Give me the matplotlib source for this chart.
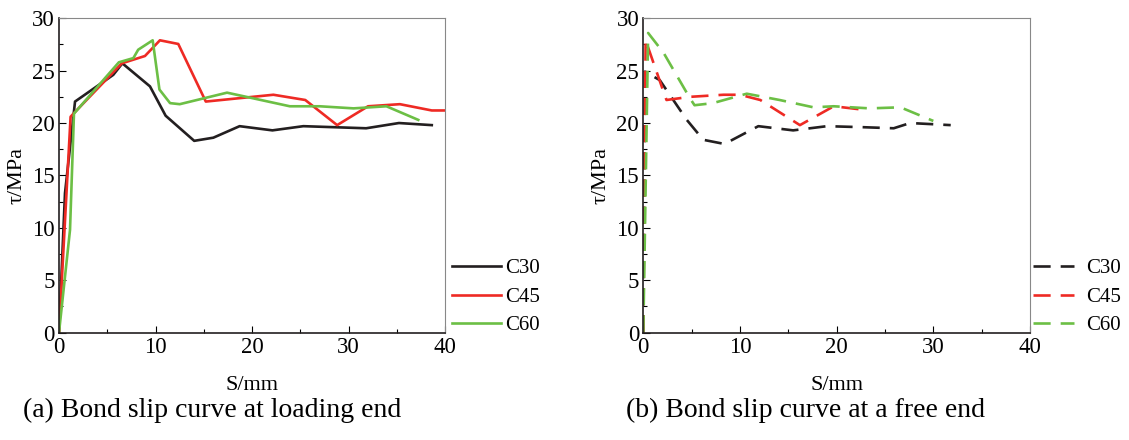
import matplotlib
matplotlib.use("Agg")
import matplotlib.pyplot as plt
from matplotlib.ticker import MultipleLocator

plt.rcParams['font.family'] = ['Liberation Serif', 'DejaVu Serif']

# (a) loading end
a_c30_x = [0, 0.62, 1.66, 5.62, 6.56, 9.42, 11.04, 14.0, 15.98, 18.7, 22.1, 25.3, 31.8, 35.2, 38.6]
a_c30_y = [0, 13.3, 22.05, 24.6, 25.7, 23.5, 20.7, 18.3, 18.6, 19.7, 19.3, 19.7, 19.5, 20.0, 19.8]
a_c45_x = [0, 1.2, 1.5, 6.5, 8.9, 10.45, 12.35, 15.2, 22.2, 25.5, 28.8, 32.0, 35.3, 38.6, 40.0]
a_c45_y = [0, 20.6, 20.9, 25.7, 26.4, 27.9, 27.55, 22.05, 22.7, 22.2, 19.8, 21.6, 21.8, 21.2, 21.2]
a_c60_x = [0, 1.14, 1.55, 6.2, 7.7, 8.2, 9.7, 10.4, 11.5, 12.5, 17.4, 23.9, 27.0, 30.5, 33.9, 37.2]
a_c60_y = [0, 9.8, 20.9, 25.8, 26.2, 27.0, 27.9, 23.2, 21.9, 21.8, 22.9, 21.6, 21.6, 21.4, 21.6, 20.3]

# (b) free end
b_c30_x = [0, 0.17, 1.7, 3.1, 4.5, 6.2, 8.4, 11.9, 15.5, 19.0, 22.8, 25.9, 27.6, 31.8]
b_c30_y = [0, 24.9, 24.1, 22.2, 20.3, 18.4, 18.0, 19.7, 19.3, 19.7, 19.6, 19.5, 20.0, 19.8]
b_c45_x = [0, 0.24, 1.9, 2.4, 4.8, 8.3, 10.0, 12.1, 16.2, 19.7, 22.5]
b_c45_y = [0, 27.9, 23.5, 22.2, 22.5, 22.7, 22.7, 22.2, 19.8, 21.6, 21.3]
b_c60_x = [0, 0.5, 2.1, 4.3, 4.8, 5.3, 7.2, 10.7, 14.1, 17.6, 19.7, 23.4, 26.6, 30.0]
b_c60_y = [0, 28.6, 26.7, 23.2, 22.4, 21.7, 21.9, 22.8, 22.2, 21.5, 21.6, 21.4, 21.5, 20.2]

labels = ['C30', 'C45', 'C60']
colors = ['#231f20', '#ee2a24', '#6cbf45']
captions = ['(a) Bond slip curve at loading end', '(b) Bond slip curve at a free end']

fig = plt.figure(figsize=(11.29, 4.40), dpi=100)
W, H = 1129, 440
axa = fig.add_axes([59 / W, 1 - 332.5 / H, (445.3 - 59) / W, (332.5 - 18.3) / H])
axb = fig.add_axes([643.3 / W, 1 - 332.5 / H, (1030 - 643.3) / W, (332.5 - 18.3) / H])

data = [
    (axa, [(a_c30_x, a_c30_y), (a_c45_x, a_c45_y), (a_c60_x, a_c60_y)], '-', (0.997, -0.035), 2.35, 0.2),
    (axb, [(b_c30_x, b_c30_y), (b_c45_x, b_c45_y), (b_c60_x, b_c60_y)], (0, (6.5, 3.8)), (0.985, -0.035), 2.0, 0.55),
]

for i, (ax, series, ls, lpos, hl, tp) in enumerate(data):
    for (x, y), lab, c in zip(series, labels, colors):
        ax.plot(x, y, color=c, lw=1.9, ls=ls, label=lab)
    ax.set_xlim(0, 40)
    ax.set_ylim(0, 30)
    ax.xaxis.set_major_locator(MultipleLocator(10))
    ax.xaxis.set_minor_locator(MultipleLocator(5))
    ax.yaxis.set_major_locator(MultipleLocator(5))
    ax.yaxis.set_minor_locator(MultipleLocator(2.5))
    ax.tick_params(which='both', direction='in', labelsize=16.5, top=False, right=False, pad=3)
    ax.tick_params(which='major', length=5, width=0.8)
    ax.tick_params(which='minor', length=3, width=0.8)
    for s in ['left', 'bottom']:
        ax.spines[s].set_linewidth(1.2)
        ax.spines[s].set_color('#231f20')
    for s in ['top', 'right']:
        ax.spines[s].set_linewidth(0.8)
        ax.spines[s].set_color('#888888')
    ax.set_xlabel('S/mm', fontsize=16, labelpad=13)
    ax.set_ylabel('τ/MPa', fontsize=16, labelpad=4)
    leg = ax.legend(loc='lower left', bbox_to_anchor=lpos, frameon=False, fontsize=15,
                    handlelength=hl, handletextpad=tp, labelspacing=0.42, borderaxespad=0)

fig.text(212 / W, 1 - 410 / H, captions[0], fontsize=20, ha='center', va='center')
fig.text(806 / W, 1 - 410 / H, captions[1], fontsize=20, ha='center', va='center')

fig.savefig('out.png', dpi=100, facecolor='white')
